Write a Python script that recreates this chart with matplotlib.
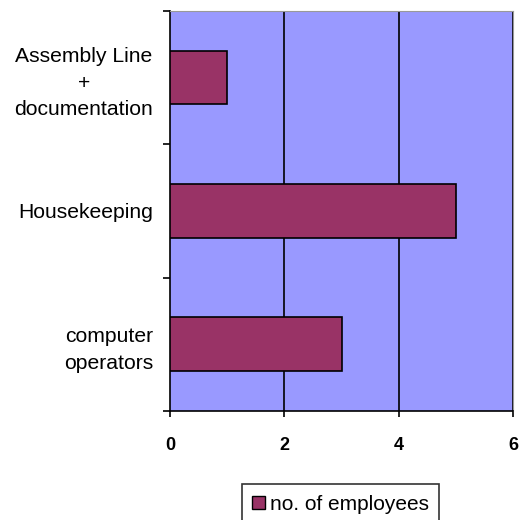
import numpy as np
import matplotlib.pyplot as plt
from matplotlib.patches import Patch

categories = ["computer\noperators", "Housekeeping", "Assembly Line\n+\ndocumentation"]
employees = [3, 5, 1]
xticks = [0, 2, 4, 6]

plt.rcParams['font.family'] = ['Liberation Sans', 'DejaVu Sans']

fig = plt.figure(figsize=(5.2, 5.2), dpi=100)
ax = fig.add_axes([0.327, 0.21, 0.6595, 0.769])
ax.set_facecolor('#9999FF')

y = np.arange(len(categories))
ax.barh(y, employees, height=0.4, color='#993366', edgecolor='black', linewidth=1.2, zorder=3)

ax.set_xlim(0, 6)
ax.set_ylim(-0.5, len(categories) - 0.5)

# vertical grid lines
for v in xticks[1:]:
    ax.axvline(v, color='black', linewidth=1.2, zorder=2)

ax.set_xticks(xticks)
ax.set_xticklabels([str(v) for v in xticks], fontweight='bold', fontsize=13)
ax.tick_params(axis='x', direction='out', length=4, width=1.2, pad=15)

ax.set_yticks(y)
ax.set_yticklabels(categories, fontsize=15.2, ha='right', multialignment='center',
                   linespacing=1.5)
ax.tick_params(axis='y', which='major', length=0, pad=12)
ax.set_yticks(np.arange(-0.5, len(categories)), minor=True)
ax.tick_params(axis='y', which='minor', direction='out', length=5, width=1.2)

for s in ['left', 'bottom']:
    ax.spines[s].set_linewidth(1.2)
    ax.spines[s].set_color('black')
for s in ['top', 'right']:
    ax.spines[s].set_color('#999999')
    ax.spines[s].set_linewidth(0.8)

handle = Patch(facecolor='#993366', edgecolor='black', label='no. of employees')
leg = fig.legend(handles=[handle], loc='upper center', bbox_to_anchor=(0.655, 0.069),
                 frameon=True, fancybox=False, fontsize=15, handlelength=0.6, handleheight=0.6,
                 handletextpad=0.25, borderpad=0.5, borderaxespad=0)
leg.get_frame().set_edgecolor('black')
leg.get_frame().set_linewidth(1.2)

fig.savefig('out.png', dpi=100, facecolor='white')
